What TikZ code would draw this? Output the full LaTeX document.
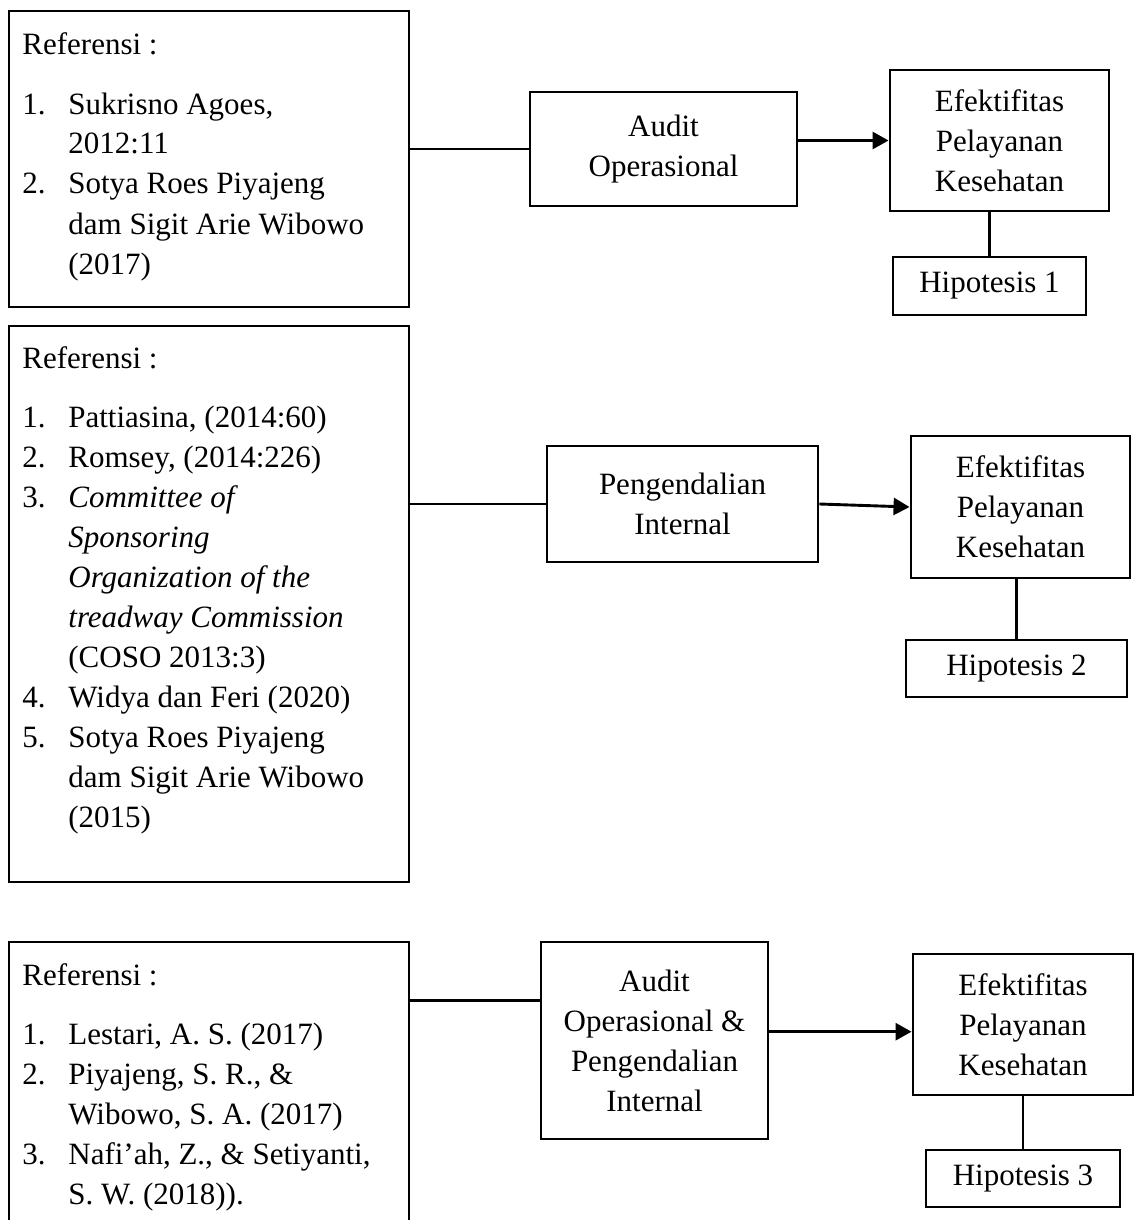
\documentclass[tikz,border=0pt]{standalone}
\usepackage{fontspec}
\setmainfont{Liberation Serif}
\usepackage{array}
\usetikzlibrary{arrows.meta,calc}
\newcommand{\txtsize}{\fontsize{15.5pt}{20pt}\selectfont}
\newcommand{\reflist}[1]{\begin{tabular}[t]{@{}p{23pt}@{}l@{}}
\multicolumn{2}{@{}l@{}}{Referensi :}\\[9.5pt]
#1
\end{tabular}}
\tikzset{
box/.style={rectangle,draw=black,line width=1.45pt,inner sep=0pt,align=center,font=\txtsize},
reftext/.style={anchor=base west,inner sep=0pt,align=left,font=\txtsize},
conn/.style={line width=1.45pt,draw=black},
arr/.style={conn,-{Triangle[length=8pt,width=8.5pt]}},
}

\begin{document}
\begin{tikzpicture}[x=0.5pt,y=-0.5pt]
\clip (0,0) rectangle (1134,1220);

\node[box,minimum width=200pt,minimum height=148pt] (ref1) at (209,159) {};
\node[reftext] (ref1txt) at (22,55) {\reflist{
1. & Sukrisno Agoes,\\
 & 2012:11\\
2. & Sotya Roes Piyajeng\\
 & dam Sigit Arie Wibowo\\
 & (2017)}};
\node[box,minimum width=133.5pt,minimum height=57pt] (aud1) at (663.5,149) {Audit\\Operasional};
\node[box,minimum width=109.5pt,minimum height=70.5pt] (efek1) at (999.5,140.5) {Efektifitas\\Pelayanan\\Kesehatan};
\node[box,minimum width=96.5pt,minimum height=29pt] (hip1) at (989.5,286) {Hipotesis 1};
\draw[conn] (ref1.east |- aud1.west) -- (aud1.west);
\draw[arr] (aud1.east |- efek1.west) -- (efek1.west);
\draw[conn] (efek1.south -| hip1.north) -- (hip1.north);

\node[box,minimum width=200pt,minimum height=278pt] (ref2) at (209,604) {};
\node[reftext] (ref2txt) at (22,368) {\reflist{
1. & Pattiasina, (2014:60)\\
2. & Romsey, (2014:226)\\
3. & \textit{Committee of}\\
 & \textit{Sponsoring}\\
 & \textit{Organization of the}\\
 & \textit{treadway Commission}\\
 & (COSO 2013:3)\\
4. & Widya dan Feri (2020)\\
5. & Sotya Roes Piyajeng\\
 & dam Sigit Arie Wibowo\\
 & (2015)}};
\node[box,minimum width=135.5pt,minimum height=58pt] (peng) at (682.5,504) {Pengendalian\\Internal};
\node[box,minimum width=109.5pt,minimum height=71pt] (efek2) at (1020.5,507) {Efektifitas\\Pelayanan\\Kesehatan};
\node[box,minimum width=110.5pt,minimum height=28.5pt] (hip2) at (1016.5,668.5) {Hipotesis 2};
\draw[conn] (ref2.east |- peng.west) -- (peng.west);
\draw[arr] (peng.east) -- (efek2.west);
\draw[conn] (efek2.south -| hip2.north) -- (hip2.north);

\node[box,minimum width=200pt,minimum height=149pt] (ref3) at (209,1091) {};
\node[reftext] (ref3txt) at (22,985) {\reflist{
1. & Lestari, A. S. (2017)\\
2. & Piyajeng, S. R., \&\\
 & Wibowo, S. A. (2017)\\
3. & Nafi’ah, Z., \& Setiyanti,\\
 & S. W. (2018)).}};
\node[box,minimum width=113.5pt,minimum height=98.5pt] (audpeng) at (654.5,1040.5) {Audit\\Operasional \&\\Pengendalian\\Internal};
\node[box,minimum width=110pt,minimum height=70.5pt] (efek3) at (1023,1024.5) {Efektifitas\\Pelayanan\\Kesehatan};
\node[box,minimum width=97pt,minimum height=28.5pt] (hip3) at (1023,1178.5) {Hipotesis 3};
\coordinate (in3) at ($(audpeng.north west)!0.3!(audpeng.south west)$);
\coordinate (out3) at ($(efek3.north west)!0.55!(efek3.south west)$);
\draw[conn] (ref3.east |- in3) -- (in3);
\draw[arr] (audpeng.east |- out3) -- (out3);
\draw[conn] (efek3.south -| hip3.north) -- (hip3.north);
\end{tikzpicture}
\end{document}
